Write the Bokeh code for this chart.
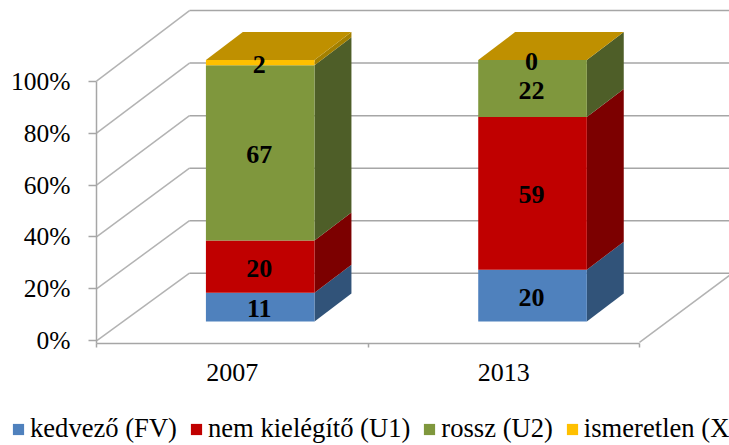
from bokeh.plotting import figure
from bokeh.models import FixedTicker, PrintfTickFormatter, Legend, LegendItem, ColumnDataSource, LinearAxis
from bokeh.core.properties import value
from bokeh.embed import file_html
from bokeh.resources import INLINE

categories = ["2007", "2013"]
kedvezo = [11, 20]
nem_kielegito = [20, 59]
rossz = [67, 22]
ismeretlen = [2, 0]
series_names = ["kedvező (FV)", "nem kielégítő (U1)", "rossz (U2)", "ismeretlen (X)"]
y_ticks = [0, 20, 40, 60, 80, 100]

front_colors = ["#4f81bd", "#c00000", "#7f973d", "#ffc000"]
side_colors = ["#315379", "#7c0000", "#4e5e28", "#a38000"]
top_color = "#bf9000"
axis_color = "#a6a6a6"
FONT = "Liberation Serif"

series = [kedvezo, nem_kielegito, rossz, ismeretlen]

# 3D projection constants (in axis units)
WALL_DX = 0.3425
BACK0 = 26.04
BACK_SCALE = 1.0116
BAR_LIFT = 7.43
BAR_SCALE = 1.007
BAR_DX = 0.136
BAR_DY = 10.8
CENTERS = [0.603, 1.606]
HALF = 0.2
X_BASE = -1.04

p = figure(width=729, height=445, output_backend="svg", toolbar_location=None,
           x_range=(-0.3536, 2.3315), y_range=(-40.33, 131.09),
           x_axis_type=None, y_axis_type=None,
           min_border_left=0, min_border_right=0, min_border_top=0, min_border_bottom=0)
p.outline_line_color = None
p.background_fill_color = "white"
p.border_fill_color = "white"

# Y axis
ya = LinearAxis(fixed_location=0)
ya.ticker = FixedTicker(ticks=y_ticks)
ya.formatter = PrintfTickFormatter(format="%d%%")
ya.bounds = (X_BASE, 100)
ya.axis_line_color = axis_color
ya.axis_line_width = 1.5
ya.major_tick_line_color = axis_color
ya.major_tick_line_width = 1.5
ya.major_tick_out = 8
ya.major_tick_in = 0
ya.minor_tick_line_color = None
ya.major_label_standoff = 18
ya.major_label_text_font = FONT
ya.major_label_text_font_size = "25.5px"
ya.major_label_text_color = "black"
p.add_layout(ya, "left")

# X axis
xa = LinearAxis(fixed_location=X_BASE)
xa.ticker = FixedTicker(ticks=[0.5, 1.5], minor_ticks=[0, 1, 2])
xa.major_label_overrides = {0.5: categories[0], 1.5: categories[1]}
xa.bounds = (0, 2)
xa.axis_line_color = axis_color
xa.axis_line_width = 1.5
xa.major_tick_line_color = None
xa.major_tick_in = 0
xa.major_tick_out = 4
xa.minor_tick_line_color = axis_color
xa.minor_tick_line_width = 1.5
xa.minor_tick_out = 4
xa.minor_tick_in = 0
xa.major_label_standoff = 16
xa.major_label_text_font = FONT
xa.major_label_text_font_size = "26px"
xa.major_label_text_color = "black"
p.add_layout(xa, "below")

# Walls: diagonals and back gridlines
for t in y_ticks:
    back = BACK0 + t * BACK_SCALE
    p.line([0, WALL_DX], [t, back], line_color="#b3b3b3", line_width=1.5)
    p.line([WALL_DX, 2 + WALL_DX], [back, back], line_color=axis_color, line_width=1.5)
p.line([2, 2 + WALL_DX], [-0.6, BACK0], line_color="#b3b3b3", line_width=1.5)

# Bars
legend_items = []
label_x, label_y, label_t = [], [], []
totals = [sum(s[i] for s in series) for i in range(len(categories))]
bottoms = [BAR_LIFT] * len(categories)
for k, s in enumerate(series):
    lefts, rights, bots, tops = [], [], [], []
    side_x, side_y = [], []
    for i, v in enumerate(s):
        h = v / totals[i] * 100 * BAR_SCALE
        x0, x1 = CENTERS[i] - HALF, CENTERS[i] + HALF
        b, t = bottoms[i], bottoms[i] + h
        lefts.append(x0); rights.append(x1); bots.append(b); tops.append(t)
        side_x.append([x1, x1 + BAR_DX, x1 + BAR_DX, x1])
        side_y.append([b, b + BAR_DY, t + BAR_DY, t])
        label_x.append(CENTERS[i]); label_y.append((b + t) / 2); label_t.append(str(v))
        bottoms[i] = t
    p.patches(side_x, side_y, fill_color=side_colors[k], line_color=None)
    r = p.quad(left=lefts, right=rights, bottom=bots, top=tops,
               fill_color=front_colors[k], line_color=None)
    legend_items.append(LegendItem(label=series_names[k], renderers=[r]))

top_x = [[c - HALF, c + HALF, c + HALF + BAR_DX, c - HALF + BAR_DX] for c in CENTERS]
top_y = [[b, b, b + BAR_DY, b + BAR_DY] for b in bottoms]
p.patches(top_x, top_y, fill_color=top_color, line_color=None)

src = ColumnDataSource(dict(x=label_x, y=label_y, t=label_t))
p.text(x="x", y="y", text="t", source=src, text_align="center", text_baseline="middle",
       x_offset=-1, y_offset=1.5,
       text_font=value(FONT), text_font_style="bold", text_font_size="26px", text_color="black")

legend = Legend(items=legend_items, orientation="horizontal",
                location=(11, 1), margin=0, padding=0, spacing=12,
                glyph_width=14, glyph_height=14, label_standoff=5,
                border_line_color=None, background_fill_alpha=0,
                label_text_font=FONT, label_text_font_size="26.6px", label_text_color="black",
                label_text_baseline="middle")
p.add_layout(legend, "center")

open("out.html", "w").write(file_html(p, INLINE))
